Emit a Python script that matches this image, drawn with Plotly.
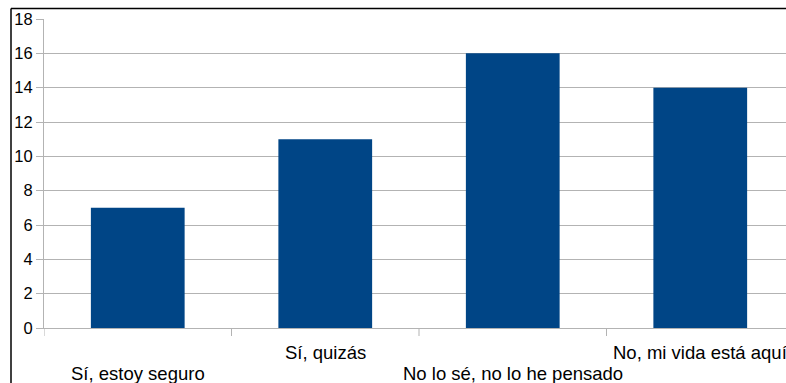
import plotly.graph_objects as go

categories = ["Sí, estoy seguro", "Sí, quizás", "No lo sé, no lo he pensado", "No, mi vida está aquí"]
values = [7, 11, 16, 14]
y_ticks = [0, 2, 4, 6, 8, 10, 12, 14, 16, 18]

W, H = 786, 383
L, R, T, B = 44, 0, 19, 55
plot_h = H - T - B
plot_w = W - L - R

GRID = "#b3b3b3"
FAMILY = "Liberation Sans, Arial, sans-serif"
TICK_FONT = dict(family=FAMILY, size=16.5, color="#000000")
CAT_FONT = dict(family=FAMILY, size=18.5, color="#000000")

fig = go.Figure(
    go.Bar(
        x=list(range(len(categories))),
        y=values,
        marker=dict(color="#004586", line=dict(width=0)),
        width=0.5,
        hoverinfo="skip",
    )
)

# category labels, alternating between two rows
label_rows = [373, 352]
for i, name in enumerate(categories):
    py = label_rows[i % 2]
    fig.add_annotation(
        x=i, xref="x",
        y=(T + plot_h - py) / plot_h, yref="paper",
        text=name, showarrow=False,
        xanchor="center", yanchor="middle",
        font=CAT_FONT,
    )

# category boundary ticks below the x axis
for b in [-0.5, 0.5, 1.5, 2.5, 3.5]:
    fig.add_shape(type="line", xref="x", yref="paper",
                  x0=b, x1=b, y0=0, y1=-8 / plot_h,
                  line=dict(color=GRID, width=1))

# outer frame (top and left edges)
fx = (11 - L) / plot_w
fy = (T + plot_h - 8.5) / plot_h
fig.add_shape(type="line", xref="paper", yref="paper",
              x0=fx, x1=1.05, y0=fy, y1=fy,
              line=dict(color="#000000", width=1.5))
fig.add_shape(type="line", xref="paper", yref="paper",
              x0=fx, x1=fx, y0=fy, y1=-0.3,
              line=dict(color="#000000", width=1.5))

fig.update_layout(
    width=W, height=H,
    margin=dict(l=L, r=R, t=T, b=B),
    paper_bgcolor="white", plot_bgcolor="white",
    showlegend=False,
    bargap=0.5,
    font=TICK_FONT,
    xaxis=dict(
        range=[-0.5, -0.5 + plot_w / 187.5],
        showticklabels=False, ticks="",
        showgrid=False, zeroline=False,
        showline=True, linecolor=GRID, linewidth=1,
        fixedrange=True,
    ),
    yaxis=dict(
        range=[0, 18],
        tickvals=y_ticks,
        ticks="outside", ticklen=7, tickcolor=GRID, tickwidth=1,
        showgrid=True, gridcolor=GRID, gridwidth=1,
        zeroline=False,
        showline=True, linecolor=GRID, linewidth=1,
        tickfont=TICK_FONT,
        fixedrange=True,
    ),
)

fig.write_html("out.html")
